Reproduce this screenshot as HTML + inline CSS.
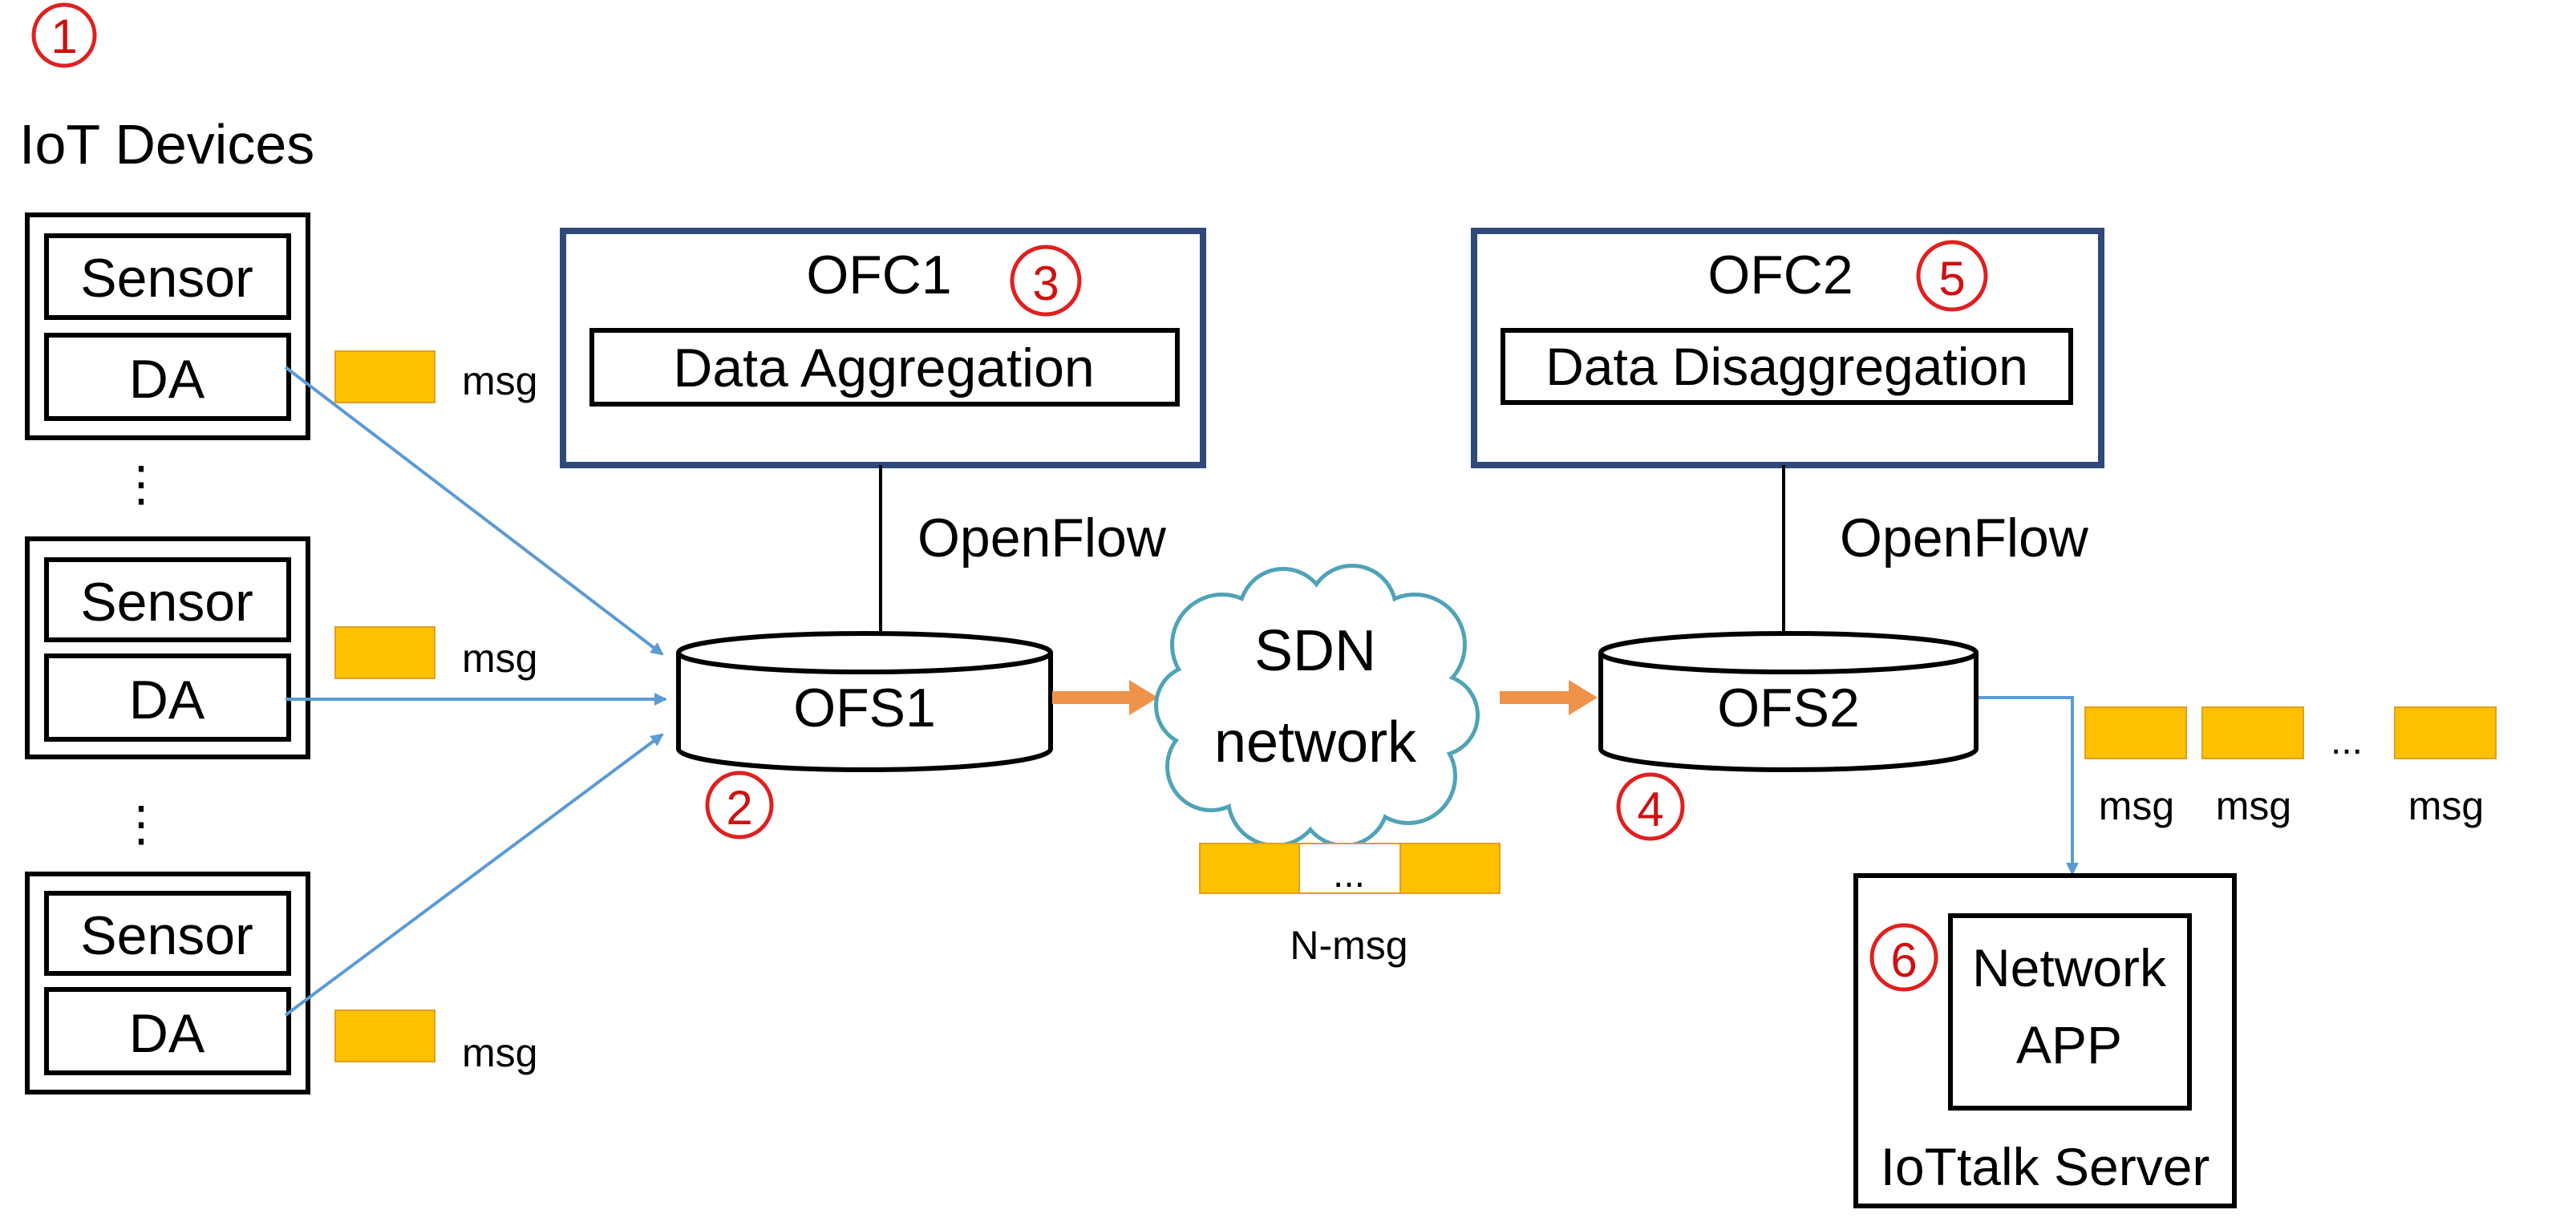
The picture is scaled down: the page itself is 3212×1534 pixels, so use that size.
<!DOCTYPE html>
<html><head><meta charset="utf-8"><style>
html,body{margin:0;padding:0;background:#fff;}
svg{display:block;}
text{font-family:"Liberation Sans",sans-serif;fill:#000;}
</style></head><body>
<svg width="3212" height="1534" viewBox="0 0 1606 767" xmlns="http://www.w3.org/2000/svg">
<defs>
<marker id="ab" markerWidth="8" markerHeight="8" refX="7" refY="4" orient="auto" markerUnits="userSpaceOnUse"><path d="M0,0 L8,4 L0,8 z" fill="#5b9bd5"/></marker>
</defs>
<rect width="1606" height="767" fill="#fff"/>

<circle cx="40" cy="22" r="19" fill="none" stroke="#e02020" stroke-width="2.5"/>
<text x="40" y="33" font-size="30" text-anchor="middle" style="fill:#d01010">1</text>
<text x="12" y="102" font-size="35">IoT Devices</text>

<g fill="none" stroke="#000" stroke-width="3">
<rect x="17" y="134" width="175" height="139"/>
<rect x="29" y="147" width="151" height="51"/>
<rect x="29" y="209" width="151" height="52"/>
<rect x="17" y="336" width="175" height="136"/>
<rect x="29" y="349" width="151" height="50"/>
<rect x="29" y="409" width="151" height="52"/>
<rect x="17" y="545" width="175" height="136"/>
<rect x="29" y="557" width="151" height="50"/>
<rect x="29" y="617" width="151" height="52"/>
</g>
<g font-size="34" text-anchor="middle">
<text x="104" y="185">Sensor</text><text x="104" y="248">DA</text>
<text x="104" y="387">Sensor</text><text x="104" y="448">DA</text>
<text x="104" y="595">Sensor</text><text x="104" y="656">DA</text>
</g>
<g font-size="30" text-anchor="middle">
<text x="88" y="312">⋮</text><text x="88" y="524">⋮</text>
</g>

<g fill="#ffc000" stroke="#e0a020" stroke-width="1">
<rect x="209" y="219" width="62" height="32"/>
<rect x="209" y="391" width="62" height="32"/>
<rect x="209" y="630" width="62" height="32"/>
</g>
<g font-size="25">
<text x="288" y="246">msg</text><text x="288" y="419">msg</text><text x="288" y="665">msg</text>
</g>

<g stroke="#5b9bd5" stroke-width="2" fill="none" marker-end="url(#ab)">
<line x1="178" y1="229" x2="413" y2="408"/>
<line x1="178" y1="436" x2="415" y2="436"/>
<line x1="178" y1="633" x2="413" y2="458"/>
<polyline points="1233,435 1292,435 1292,545"/>
</g>

<rect x="351" y="144" width="399" height="146" fill="none" stroke="#2e4a7a" stroke-width="4"/>
<text x="548" y="183" font-size="34" text-anchor="middle">OFC1</text>
<circle cx="652" cy="175" r="21" fill="none" stroke="#e02020" stroke-width="2.5"/>
<text x="652" y="187" font-size="30" text-anchor="middle" style="fill:#d01010">3</text>
<rect x="369" y="206" width="365" height="46" fill="none" stroke="#000" stroke-width="3"/>
<text x="551" y="241" font-size="34" text-anchor="middle">Data Aggregation</text>
<line x1="549" y1="290" x2="549" y2="400" stroke="#000" stroke-width="2"/>
<text x="572" y="347" font-size="34">OpenFlow</text>

<rect x="919" y="144" width="391" height="146" fill="none" stroke="#2e4a7a" stroke-width="4"/>
<text x="1110" y="183" font-size="34" text-anchor="middle">OFC2</text>
<circle cx="1217" cy="172" r="21" fill="none" stroke="#e02020" stroke-width="2.5"/>
<text x="1217" y="184" font-size="30" text-anchor="middle" style="fill:#d01010">5</text>
<rect x="937" y="206" width="354" height="45" fill="none" stroke="#000" stroke-width="3"/>
<text x="1114" y="240" font-size="33" text-anchor="middle">Data Disaggregation</text>
<line x1="1112" y1="290" x2="1112" y2="400" stroke="#000" stroke-width="2"/>
<text x="1147" y="347" font-size="34">OpenFlow</text>

<g stroke="#000" stroke-width="3" fill="#fff">
<path d="M423,407 L423,467 A116,13 0 0 0 655,467 L655,407"/>
<ellipse cx="539" cy="407" rx="116" ry="12"/>
</g>
<text x="539" y="453" font-size="34" text-anchor="middle">OFS1</text>
<circle cx="461" cy="502" r="20" fill="none" stroke="#e02020" stroke-width="2.5"/>
<text x="461" y="514" font-size="30" text-anchor="middle" style="fill:#d01010">2</text>

<g stroke="#000" stroke-width="3" fill="#fff">
<path d="M998,407 L998,467 A117,13 0 0 0 1232,467 L1232,407"/>
<ellipse cx="1115" cy="407" rx="117" ry="12"/>
</g>
<text x="1115" y="453" font-size="34" text-anchor="middle">OFS2</text>
<circle cx="1029" cy="503" r="20" fill="none" stroke="#e02020" stroke-width="2.5"/>
<text x="1029" y="515" font-size="30" text-anchor="middle" style="fill:#d01010">4</text>

<g fill="#f0934a">
<rect x="656" y="431" width="50" height="8"/><path d="M704,424 L722,435 L704,446 z"/>
<rect x="935" y="431" width="45" height="8"/><path d="M978,424 L996,435 L978,446 z"/>
</g>

<g stroke="#4fa3b8" stroke-width="5">
<circle cx="762" cy="402" r="30"/><circle cx="800" cy="382" r="26"/><circle cx="843" cy="380" r="26"/>
<circle cx="882" cy="402" r="30"/><circle cx="896" cy="446" r="24"/><circle cx="878" cy="484" r="28"/>
<circle cx="838" cy="500" r="26"/><circle cx="795" cy="498" r="28"/><circle cx="755" cy="478" r="26"/>
<circle cx="746" cy="440" r="24"/>
</g>
<g fill="#fff">
<circle cx="762" cy="402" r="30"/><circle cx="800" cy="382" r="26"/><circle cx="843" cy="380" r="26"/>
<circle cx="882" cy="402" r="30"/><circle cx="896" cy="446" r="24"/><circle cx="878" cy="484" r="28"/>
<circle cx="838" cy="500" r="26"/><circle cx="795" cy="498" r="28"/><circle cx="755" cy="478" r="26"/>
<circle cx="746" cy="440" r="24"/><circle cx="820" cy="440" r="58"/>
</g>
<text x="820" y="418" font-size="36" text-anchor="middle">SDN</text>
<text x="820" y="475" font-size="36" text-anchor="middle">network</text>

<rect x="748" y="526" width="62" height="31" fill="#ffc000" stroke="#e0a020"/>
<rect x="810" y="526" width="63" height="31" fill="#fff" stroke="#e0a020"/>
<rect x="873" y="526" width="62" height="31" fill="#ffc000" stroke="#e0a020"/>
<text x="841" y="553" font-size="24" text-anchor="middle">...</text>
<text x="841" y="598" font-size="25" text-anchor="middle">N-msg</text>

<g fill="#ffc000" stroke="#e0a020" stroke-width="1">
<rect x="1300" y="441" width="63" height="32"/>
<rect x="1373" y="441" width="63" height="32"/>
<rect x="1493" y="441" width="63" height="32"/>
</g>
<text x="1463" y="470" font-size="24" text-anchor="middle">...</text>
<g font-size="25" text-anchor="middle">
<text x="1332" y="511">msg</text><text x="1405" y="511">msg</text><text x="1525" y="511">msg</text>
</g>

<rect x="1157" y="546" width="236" height="206" fill="none" stroke="#000" stroke-width="3"/>
<rect x="1216" y="571" width="149" height="120" fill="none" stroke="#000" stroke-width="3"/>
<text x="1290" y="615" font-size="33" text-anchor="middle">Network</text>
<text x="1290" y="663" font-size="33" text-anchor="middle">APP</text>
<text x="1275" y="739" font-size="33" text-anchor="middle">IoTtalk Server</text>
<circle cx="1187" cy="597" r="20" fill="none" stroke="#e02020" stroke-width="2.5"/>
<text x="1187" y="609" font-size="30" text-anchor="middle" style="fill:#d01010">6</text>
</svg>
</body></html>
